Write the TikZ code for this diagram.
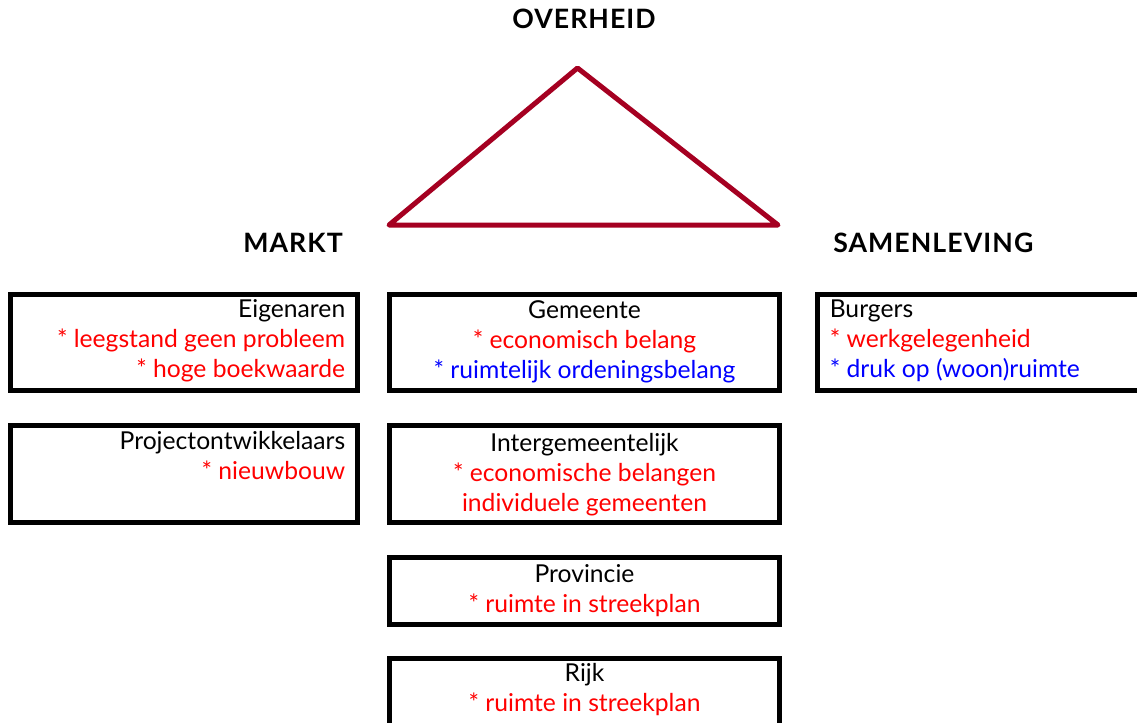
\documentclass[tikz,border=0pt]{standalone}
\usepackage{fontspec}
\setmainfont{Lato}
\definecolor{driehoek}{HTML}{A50021}
\definecolor{belangrood}{HTML}{FF0000}
\definecolor{belangblauw}{HTML}{0000FF}
\newcommand{\rood}[1]{\textcolor{belangrood}{#1}}
\newcommand{\blauw}[1]{\textcolor{belangblauw}{#1}}

\tikzset{
  box/.style={draw, line width=3.75pt, inner sep=0pt},
  kop/.style={font=\fontsize{20}{22}\selectfont\bfseries\addfontfeature{LetterSpace=4}, inner sep=0pt},
  tekst/.style={font=\fontsize{18.5}{22.5}\selectfont, inner sep=0pt},
}

\begin{document}
\begin{tikzpicture}[x=0.75pt, y=-0.75pt]
\def\u{0.75pt}
\clip (0,0) rectangle (1137,722);

% driehoek overheid - markt - samenleving
\coordinate (top) at (577.5,68);
\coordinate (links) at (389,225);
\coordinate (rechts) at (778,225);
\draw[driehoek, line width=3.75pt, line join=round] (links) -- (top) -- (rechts) -- cycle;

\node[kop, anchor=base] (overheid) at (584,28) {OVERHEID};
\node[kop, anchor=base east] (markt) at (343,252) {MARKT};
\node[kop, anchor=base west] (samenleving) at (833,252) {SAMENLEVING};

% kolom markt
\node[box, minimum width=347*\u, minimum height=96*\u] (eigenaren) at (184,342) {};
\node[box, minimum width=347*\u, minimum height=97*\u] (projecten) at (184,474) {};

% kolom overheid
\node[box, minimum width=390*\u, minimum height=96*\u] (gemeente) at (584.5,342) {};
\node[box, minimum width=390*\u, minimum height=97*\u] (intergem) at (584.5,474) {};
\node[box, minimum width=390*\u, minimum height=67*\u] (provincie) at (584.5,591) {};
\node[box, minimum width=390*\u, minimum height=67*\u] (rijk) at (584.5,692) {};

% kolom samenleving
\node[box, minimum width=340*\u, minimum height=96*\u] (burgers) at (987.5,342) {};

% teksten (yshift tot de basislijn van de laatste regel)
\node[tekst, align=right, anchor=base east, xshift=-14.5*\u, yshift=-86*\u] (teigenaren) at (eigenaren.north east)
  {Eigenaren\\ \rood{* leegstand geen probleem}\\ \rood{* hoge boekwaarde}};
\node[tekst, align=right, anchor=base east, xshift=-14.5*\u, yshift=-56*\u] (tprojecten) at (projecten.north east)
  {Projectontwikkelaars\\ \rood{* nieuwbouw}};
\node[tekst, align=center, anchor=base, yshift=-87*\u] (tgemeente) at (gemeente.north)
  {Gemeente\\ \rood{* economisch belang}\\ \blauw{* ruimtelijk ordeningsbelang}};
\node[tekst, align=center, anchor=base, yshift=-88*\u] (tintergem) at (intergem.north)
  {Intergemeentelijk\\ \rood{* economische belangen}\\ \rood{individuele gemeenten}};
\node[tekst, align=center, anchor=base, yshift=-57*\u] (tprovincie) at (provincie.north)
  {Provincie\\ \rood{* ruimte in streekplan}};
\node[tekst, align=center, anchor=base, yshift=-55.5*\u] (trijk) at (rijk.north)
  {Rijk\\ \rood{* ruimte in streekplan}};
\node[tekst, align=left, anchor=base west, xshift=14.5*\u, yshift=-86*\u] (tburgers) at (burgers.north west)
  {Burgers\\ \rood{* werkgelegenheid}\\ \blauw{* druk op (woon)ruimte}};
\end{tikzpicture}
\end{document}
